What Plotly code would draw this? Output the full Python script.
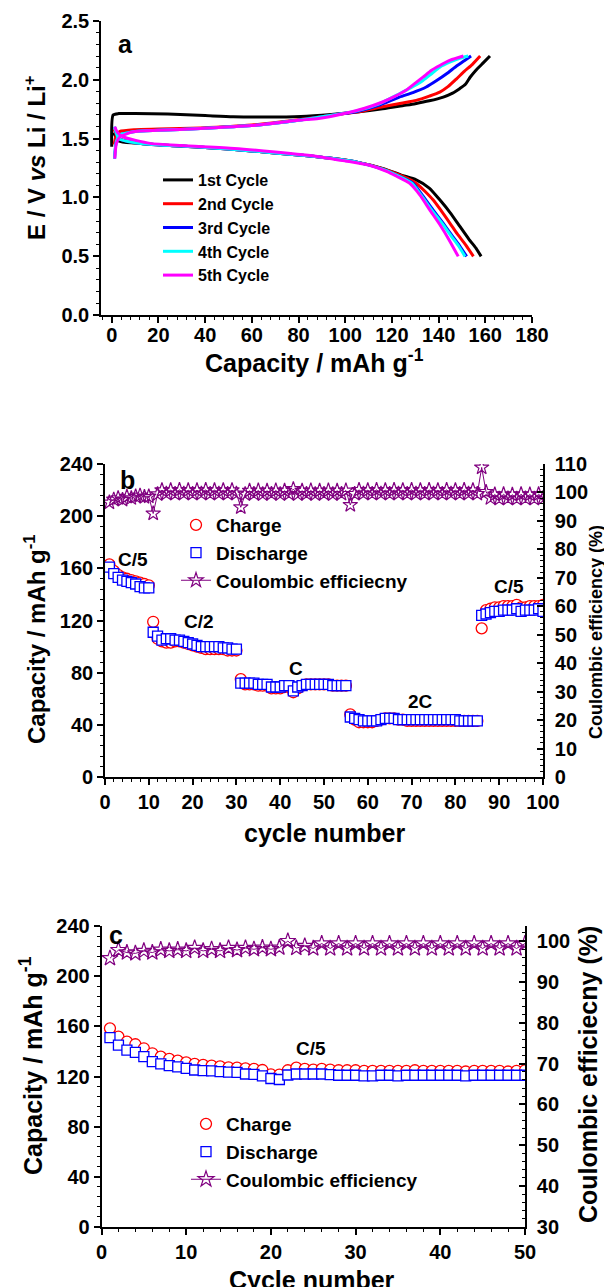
import plotly.graph_objects as go

W, H = 612, 1287
OFF = 8  # page body margin in the browser
FW, FH = W - OFF, H - OFF

# ---------------- Panel a: charge/discharge profiles ----------------
cycle_names = ["1st Cycle", "2nd Cycle", "3rd Cycle", "4th Cycle", "5th Cycle"]
cycle_colors = ["#000000", "#ff0000", "#0000ff", "#00ffff", "#ff00ff"]

c1_charge_cap = [0, 0.6, 3, 10, 24, 40, 52, 66, 81, 94, 105, 116, 125, 130, 136, 142, 146, 149, 151.5, 153.5, 156, 159, 162]
c1_charge_v = [1.43, 1.70, 1.712, 1.712, 1.708, 1.695, 1.685, 1.683, 1.688, 1.705, 1.725, 1.752, 1.78, 1.796, 1.82, 1.852, 1.885, 1.923, 1.96, 2.02, 2.08, 2.14, 2.2]
c1_dis_cap = [0.8, 3, 10, 25, 40, 60, 80, 94, 105, 116, 124, 130.4, 136, 140.5, 145, 149.1, 153, 156, 158.2]
c1_dis_v = [1.55, 1.48, 1.462, 1.44, 1.425, 1.395, 1.36, 1.332, 1.30, 1.247, 1.19, 1.149, 1.08, 0.98, 0.87, 0.754, 0.645, 0.57, 0.50]

c2_charge_cap = [1.0, 2, 3.5, 10, 20, 38, 60, 80, 95, 105, 116, 124, 130.4, 136, 140.5, 144, 147.7, 151, 154.5, 157.8]
c2_charge_v = [1.45, 1.53, 1.56, 1.575, 1.58, 1.59, 1.615, 1.66, 1.70, 1.725, 1.77, 1.80, 1.824, 1.86, 1.894, 1.94, 2.007, 2.07, 2.13, 2.2]
c2_dis_cap = [1.0, 3, 10, 25, 40, 60, 80, 94, 105, 116, 124, 130.4, 137.6, 141, 144.8, 148, 151.5, 154.9]
c2_dis_v = [1.58, 1.50, 1.465, 1.44, 1.425, 1.395, 1.36, 1.332, 1.30, 1.245, 1.185, 1.121, 0.98, 0.89, 0.783, 0.69, 0.60, 0.50]

c3_charge_cap = [1.2, 2, 3.5, 10, 20, 38, 60, 80, 95, 105, 114, 123.2, 129, 134.7, 139, 143.4, 148, 151, 153.9]
c3_charge_v = [1.33, 1.48, 1.53, 1.56, 1.57, 1.585, 1.61, 1.655, 1.70, 1.73, 1.78, 1.852, 1.89, 1.937, 1.99, 2.05, 2.12, 2.16, 2.2]
c3_dis_cap = [1.2, 3, 10, 25, 40, 60, 80, 94, 105, 116, 122, 129, 133, 137.6, 142, 146, 149, 152]
c3_dis_v = [1.60, 1.50, 1.465, 1.44, 1.425, 1.395, 1.36, 1.332, 1.30, 1.24, 1.19, 1.121, 1.02, 0.895, 0.78, 0.67, 0.59, 0.50]

c4_charge_cap = [1.2, 2, 3.5, 10, 20, 38, 60, 80, 95, 105, 114, 123.2, 128, 133.3, 137, 140.5, 145, 149, 152.7]
c4_charge_v = [1.33, 1.48, 1.53, 1.56, 1.57, 1.585, 1.61, 1.655, 1.70, 1.735, 1.79, 1.88, 1.93, 1.993, 2.05, 2.106, 2.15, 2.18, 2.2]
c4_dis_cap = [1.2, 3, 10, 25, 40, 60, 80, 94, 105, 116, 122, 128.5, 132.5, 137, 141.5, 145.5, 148.5, 151.3]
c4_dis_v = [1.60, 1.50, 1.465, 1.44, 1.425, 1.395, 1.36, 1.332, 1.30, 1.24, 1.19, 1.121, 1.02, 0.895, 0.78, 0.67, 0.59, 0.50]

c5_charge_cap = [1.3, 2, 3.5, 9.2, 20, 38, 60, 80, 88.6, 100, 108, 116, 121, 126, 130, 133.3, 137, 140.5, 145, 150.6]
c5_charge_v = [1.33, 1.46, 1.514, 1.557, 1.57, 1.585, 1.61, 1.655, 1.67, 1.715, 1.755, 1.81, 1.855, 1.909, 1.97, 2.021, 2.08, 2.12, 2.165, 2.2]
c5_dis_cap = [1.3, 2.5, 4.9, 16.4, 30, 52.5, 70, 88.6, 100, 110, 118, 122, 127.5, 132, 136.2, 140.5, 144.5, 148.4]
c5_dis_v = [1.60, 1.55, 1.514, 1.459, 1.44, 1.416, 1.385, 1.346, 1.31, 1.275, 1.22, 1.18, 1.121, 1.02, 0.895, 0.77, 0.64, 0.50]

# ---------------- Panel b: rate capability ----------------
b_cycles = list(range(1, 101))
b_charge = [163, 158, 155, 153, 152, 151, 150, 149, 148, 147,
            119, 106, 104, 103, 103, 104, 104, 103, 102, 101, 100, 99, 98, 98, 98, 98, 98, 97, 97, 97,
            75, 71, 71, 71, 70, 70, 70, 68, 68, 68, 69, 69, 65, 68, 70, 71, 71, 71, 71, 71, 71, 70, 70, 70, 70,
            48, 44, 42, 42, 42, 42, 43, 44, 45, 45, 45, 44, 44, 43, 43, 43, 43, 43, 43, 43, 43, 43, 43, 43, 43, 43, 43, 43, 43, 43,
            114, 128, 129, 130, 130, 131, 131, 131, 132, 130, 130, 131, 131, 131, 132]
b_discharge = [161, 156, 153, 151, 150, 149, 148, 146, 145, 145,
               111, 108, 105, 106, 106, 105, 105, 104, 103, 102, 101, 100, 100, 100, 100, 100, 99, 99, 98, 98,
               72, 72, 72, 72, 71, 71, 71, 69, 69, 69, 70, 70, 66, 69, 70, 71, 71, 71, 71, 71, 71, 70, 70, 70, 70,
               46, 45, 44, 43, 43, 43, 43, 44, 45, 45, 45, 44, 44, 44, 44, 44, 44, 44, 44, 44, 44, 44, 44, 44, 44, 43, 43, 43, 43, 43,
               124, 125, 126, 127, 127, 128, 128, 128, 129, 127, 128, 128, 128, 129, 127]
b_ce = [96.5, 97.5, 98.0, 97.4, 98.5, 98.0, 98.6, 98.9, 98.4, 98.6,
        92.6,
        99.4, 100.8, 99.6, 100.8, 99.5, 100.9, 99.6, 100.8, 99.5, 100.8, 99.6, 100.9, 99.5, 100.8, 99.6, 100.8, 99.5, 100.8, 99.6,
        94.8,
        99.4, 100.6, 99.5, 100.7, 99.4, 100.6, 99.5, 100.7, 99.4, 100.6, 99.5, 101.2, 99.4, 100.6, 99.5, 100.7, 99.4, 100.6, 99.5, 100.7, 99.4, 100.6, 99.5, 100.7,
        95.6,
        99.5, 100.9, 99.6, 100.8, 99.5, 100.9, 99.6, 100.8, 99.5, 100.9, 99.6, 100.8, 99.5, 100.9, 99.6, 100.8, 99.5, 100.9, 99.6, 100.8, 99.5, 100.9, 99.6, 100.8, 99.5, 100.9, 99.6, 100.8, 99.5,
        108.8,
        100.2, 98.0, 99.3, 97.8, 99.4, 97.9, 99.2, 97.8, 99.4, 97.9, 99.3, 97.8, 99.4, 98.0]
b_rate_labels = ["C/5", "C/2", "C", "2C", "C/5"]
b_rate_x = [6.4, 21.5, 43.7, 72, 92.2]
b_rate_y = [167, 119, 83, 58, 146]

# ---------------- Panel c: cycling at C/5 ----------------
c_cycles = list(range(1, 51))
c_charge = [158.4, 151.8, 147.8, 145.7, 142.5, 138.5, 135.8, 134.0, 132.7, 131.3,
            130.0, 129.3, 128.7, 128.0, 127.3, 127.0, 126.5, 126.0, 125.2, 121.7,
            121.5, 125.0, 127.0, 126.0, 125.5, 126.0, 125.5, 125.0, 125.0, 125.0,
            124.5, 124.5, 124.5, 124.5, 124.5, 124.5, 125.0, 124.5, 124.5, 124.5,
            124.5, 124.5, 124.0, 124.5, 124.5, 124.5, 124.5, 124.0, 124.5, 125.0]
c_discharge = [151.0, 145.0, 141.1, 139.3, 135.8, 131.8, 130.0, 128.6, 127.6, 126.5,
               125.2, 124.7, 124.5, 123.9, 123.5, 123.3, 122.0, 121.7, 120.5, 118.4,
               117.6, 121.2, 122.0, 122.0, 122.0, 122.0, 121.5, 121.0, 121.0, 121.0,
               120.5, 120.5, 121.0, 121.0, 120.5, 121.0, 121.0, 121.0, 121.0, 121.0,
               121.0, 121.0, 120.5, 121.0, 121.0, 121.0, 121.0, 121.0, 121.0, 121.0]
c_ce = [95.8, 97.8, 97.2, 97.0, 97.6, 97.2, 97.9, 97.6, 97.9, 97.6,
        98.3, 97.6, 98.0, 97.6, 98.3, 97.8, 98.3, 98.0, 98.4, 98.0,
        98.4, 100.0, 98.3, 98.8, 98.2, 99.4, 98.2, 99.4, 98.2, 99.4,
        98.2, 99.4, 98.2, 99.4, 98.2, 99.4, 98.2, 99.4, 98.2, 99.4,
        98.2, 99.4, 98.2, 99.4, 98.2, 99.4, 98.2, 99.4, 98.2, 99.4]

# ---------------- helpers (reference-pixel -> paper coords) ----------------
def px(p):
    return (p - OFF) / FW

def py(p):
    return 1 - (p - OFF) / FH

FONT = "Liberation Sans, Arial, sans-serif"
BLACK = "#000000"
PURPLE = "#800080"

fig = go.Figure()

cycles_a = [
    (c1_charge_cap, c1_charge_v, c1_dis_cap, c1_dis_v),
    (c2_charge_cap, c2_charge_v, c2_dis_cap, c2_dis_v),
    (c3_charge_cap, c3_charge_v, c3_dis_cap, c3_dis_v),
    (c4_charge_cap, c4_charge_v, c4_dis_cap, c4_dis_v),
    (c5_charge_cap, c5_charge_v, c5_dis_cap, c5_dis_v),
]
for name, color, (cx, cy, dx, dy) in zip(cycle_names, cycle_colors, cycles_a):
    fig.add_trace(go.Scatter(
        x=cx + [None] + dx, y=cy + [None] + dy, mode="lines", name=name,
        line=dict(color=color, width=3, shape="spline", smoothing=0.6),
        xaxis="x", yaxis="y", legend="legend"))

# panel b
fig.add_trace(go.Scatter(x=b_cycles, y=b_charge, mode="markers", name="Charge",
                         marker=dict(symbol="circle", size=11, color="white",
                                     line=dict(color="#ff0000", width=1.3)),
                         xaxis="x2", yaxis="y2", legend="legend2"))
fig.add_trace(go.Scatter(x=b_cycles, y=b_discharge, mode="markers", name="Discharge",
                         marker=dict(symbol="square", size=10, color="white",
                                     line=dict(color="#0000ff", width=1.3)),
                         xaxis="x2", yaxis="y2", legend="legend2"))
fig.add_trace(go.Scatter(x=b_cycles, y=b_ce, mode="lines+markers", name="Coulombic efficiecny",
                         line=dict(color=PURPLE, width=1),
                         marker=dict(symbol="star-open", size=11, color=PURPLE,
                                     line=dict(color=PURPLE, width=1.2)),
                         xaxis="x2", yaxis="y3", legend="legend2"))

# panel c
fig.add_trace(go.Scatter(x=c_cycles, y=c_charge, mode="markers", name="Charge",
                         marker=dict(symbol="circle", size=11, color="white",
                                     line=dict(color="#ff0000", width=1.3)),
                         xaxis="x3", yaxis="y4", legend="legend3"))
fig.add_trace(go.Scatter(x=c_cycles, y=c_discharge, mode="markers", name="Discharge",
                         marker=dict(symbol="square", size=10, color="white",
                                     line=dict(color="#0000ff", width=1.3)),
                         xaxis="x3", yaxis="y4", legend="legend3"))
fig.add_trace(go.Scatter(x=c_cycles, y=c_ce, mode="lines+markers", name="Coulombic efficiency",
                         line=dict(color=PURPLE, width=1),
                         marker=dict(symbol="star-open", size=12, color=PURPLE,
                                     line=dict(color=PURPLE, width=1.2)),
                         xaxis="x3", yaxis="y5", legend="legend3"))

tickfont = dict(family=FONT, size=20, color=BLACK, weight="bold")

def axis(domain, rng, dtick, minor, anchor, ticks="outside", **kw):
    d = dict(domain=domain, range=rng, dtick=dtick, tick0=0, anchor=anchor,
             showline=True, linecolor=BLACK, linewidth=1.6,
             ticks=ticks, ticklen=6, tickwidth=1.5, tickcolor=BLACK,
             minor=dict(dtick=minor, tick0=0, ticks=ticks, ticklen=3, tickwidth=1.2, tickcolor=BLACK),
             tickfont=tickfont, showgrid=False, zeroline=False, automargin=False)
    d.update(kw)
    return d

fig.update_layout(
    width=FW, height=FH, margin=dict(l=0, r=0, t=0, b=0),
    paper_bgcolor="white", plot_bgcolor="white", template="none",
    xaxis=axis([px(101), px(532)], [-4.6, 180], 20, 4, "y", ticklabelstandoff=-5),
    yaxis=axis([py(315.3), py(20.7)], [0, 2.5], 0.5, 0.1, "x", tickformat=".1f"),
    xaxis2=axis([px(105), px(543)], [0, 100], 10, 2, "y2"),
    yaxis2=axis([py(777), py(464)], [0, 240], 40, 8, "x2"),
    yaxis3=axis([py(777), py(464)], [0, 110], 10, 2, "x2", ticks="inside",
                overlaying="y2", side="right", ticklabelstandoff=6),
    xaxis3=axis([px(101.5), px(525)], [0, 50], 10, 2, "y4"),
    yaxis4=axis([py(1227), py(926)], [0, 240], 40, 8, "x3"),
    yaxis5=axis([py(1227), py(926)], [30, 103.7], 10, 2, "x3", ticks="inside",
                overlaying="y4", side="right", tick0=30, ticklabelstandoff=6),
    legend=dict(x=px(158), y=py(163), xanchor="left", yanchor="top",
                bgcolor="rgba(0,0,0,0)", tracegroupgap=0,
                font=dict(family=FONT, size=16, color=BLACK, weight="bold")),
    legend2=dict(x=px(176), y=py(506), xanchor="left", yanchor="top",
                 bgcolor="rgba(0,0,0,0)",
                 font=dict(family=FONT, size=19, color=BLACK, weight="bold")),
    legend3=dict(x=px(186), y=py(1105), xanchor="left", yanchor="top",
                 bgcolor="rgba(0,0,0,0)",
                 font=dict(family=FONT, size=19, color=BLACK, weight="bold")),
    showlegend=True,
)

def ann(text, x, y, size, angle=0, xanchor="center", yanchor="middle"):
    fig.add_annotation(text=text, x=px(x), y=py(y), xref="paper", yref="paper",
                       showarrow=False, textangle=angle, xanchor=xanchor, yanchor=yanchor,
                       font=dict(family=FONT, size=size, color=BLACK, weight="bold"))

# panel a titles
ann("a", 125, 44, 25)
ann("E / V <i>vs</i> Li / Li<sup>+</sup>", 35, 158, 24, angle=-90)
ann("Capacity / mAh g<sup>-1</sup>", 314, 361, 25)
# panel b titles
ann("b", 127, 480, 25)
ann("Capacity / mAh g<sup>-1</sup>", 35, 639, 24, angle=-90)
ann("Coulombic efficiency (%)", 596, 632, 18, angle=-90)
ann("cycle number", 324, 833, 25)
# panel c titles
ann("c", 116, 935, 25)
ann("Capacity / mAh g<sup>-1</sup>", 31, 1066, 25, angle=-90)
ann("Coulombic efficiecny (%)", 588, 1075, 25, angle=-90)
ann("Cycle number", 312, 1264, 25, yanchor="top")

# rate labels (data coordinates)
for t, xv, yv in zip(b_rate_labels, b_rate_x, b_rate_y):
    fig.add_annotation(text=t, x=xv, y=yv, xref="x2", yref="y2", showarrow=False,
                       font=dict(family=FONT, size=19, color=BLACK, weight="bold"))
fig.add_annotation(text="C/5", x=24.7, y=142, xref="x3", yref="y4", showarrow=False,
                   font=dict(family=FONT, size=19, color=BLACK, weight="bold"))

fig.write_html("out.html")
